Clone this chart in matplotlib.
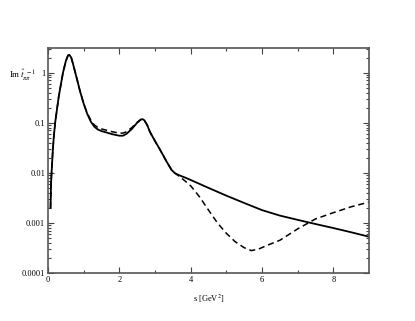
import matplotlib
matplotlib.use("Agg")
import matplotlib.pyplot as plt
import numpy as np
from matplotlib.ticker import LogLocator, FixedLocator, NullFormatter

# solid curve (s in GeV^2, Im t^-1)
s_solid = [0.07, 0.085, 0.10, 0.13, 0.16, 0.2, 0.3, 0.42, 0.5, 0.56, 0.6, 0.65,
           0.7, 0.8, 0.9, 1.0, 1.1, 1.2, 1.3, 1.4, 1.5, 1.6, 1.8, 2.0, 2.1, 2.2,
           2.35, 2.5, 2.6, 2.65, 2.7, 2.78, 2.86, 3.0, 3.14, 3.32, 3.46, 3.56,
           3.7, 3.85, 4.0, 4.5, 5.0, 5.5, 6.0, 6.5, 7.0, 7.5, 8.0, 8.5, 9.0]
v_solid = [0.002, 0.006, 0.01, 0.025, 0.05, 0.1, 0.33, 1.0, 1.7, 2.2, 2.26, 2.0,
           1.5, 0.8, 0.42, 0.24, 0.15, 0.105, 0.083, 0.073, 0.068, 0.065, 0.059,
           0.055, 0.055, 0.06, 0.075, 0.1, 0.115, 0.118, 0.112, 0.09, 0.065,
           0.043, 0.029, 0.017, 0.0115, 0.0098, 0.0088, 0.0080, 0.0072, 0.0050,
           0.0035, 0.0025, 0.0018, 0.0014, 0.00115, 0.00095, 0.00079, 0.00065,
           0.00053]

# dashed curve
s_dash = [0.07, 0.085, 0.10, 0.13, 0.16, 0.2, 0.3, 0.42, 0.5, 0.56, 0.6, 0.65,
          0.7, 0.8, 0.9, 1.0, 1.1, 1.2, 1.3, 1.4, 1.5, 1.6, 1.8, 2.0, 2.1, 2.2,
          2.35, 2.5, 2.6, 2.65, 2.7, 2.78, 2.86, 3.0, 3.14, 3.32, 3.46, 3.56,
          3.7, 3.85, 4.0, 4.25, 4.5, 4.75, 5.0, 5.25, 5.5, 5.7, 5.9, 6.2, 6.5,
          7.0, 7.5, 8.0, 8.5, 9.0]
v_dash = [0.002, 0.006, 0.01, 0.025, 0.05, 0.1, 0.33, 1.0, 1.7, 2.2, 2.26, 2.0,
          1.5, 0.8, 0.42, 0.24, 0.155, 0.112, 0.09, 0.08, 0.075, 0.072, 0.066,
          0.062, 0.062, 0.066, 0.08, 0.102, 0.116, 0.118, 0.112, 0.09, 0.065,
          0.043, 0.029, 0.017, 0.0115, 0.0098, 0.0083, 0.0068, 0.0055, 0.0033,
          0.0018, 0.001, 0.00062, 0.00042, 0.00032, 0.00028, 0.00030, 0.00037,
          0.00045, 0.00076, 0.0012, 0.0016, 0.0021, 0.0026]

x_ticks = [0, 2, 4, 6, 8]
y_ticks = [1e-4, 1e-3, 1e-2, 1e-1, 1]
y_labels = ["0.0001", "0.001", "0.01", "0.1", "1"]

plt.rcParams["font.family"] = "Liberation Serif"
plt.rcParams["mathtext.fontset"] = "stix"

fig = plt.figure(figsize=(4.15, 3.21), dpi=100)
ax = fig.add_axes([0.1157, 0.1495, 0.7735, 0.701])

ax.plot(s_solid, v_solid, color="black", lw=1.3)
ax.plot(s_dash, v_dash, color="black", lw=1.1, ls=(0, (4, 2.5)))

ax.set_yscale("log")
ax.set_xlim(0, 9)
ax.set_ylim(1e-4, 3.1)

ax.set_xticks(x_ticks)
ax.set_xticklabels([str(t) for t in x_ticks])
ax.xaxis.set_minor_locator(FixedLocator([1, 3, 5, 7]))
ax.set_yticks(y_ticks)
ax.set_yticklabels(y_labels)
ax.yaxis.set_minor_locator(LogLocator(base=10, subs=np.arange(2, 10)))
ax.yaxis.set_minor_formatter(NullFormatter())

ax.tick_params(which="both", direction="in", top=True, right=True,
               labelsize=6, width=0.8, color="#444444", pad=2)
ax.tick_params(which="major", length=4)
ax.tick_params(which="minor", length=2)
for sp in ax.spines.values():
    sp.set_color("#555555")
    sp.set_linewidth(1.2)

ax.set_xlabel(r"s [GeV$^2$]", fontsize=6, labelpad=6)
fig.text(0.022, 1 - 75 / 321, r"Im$\,\hat{t}_{\pi\pi}^{\;\;-1}$", fontsize=6.5,
         va="center", ha="left")

fig.savefig("out.png", dpi=100)
